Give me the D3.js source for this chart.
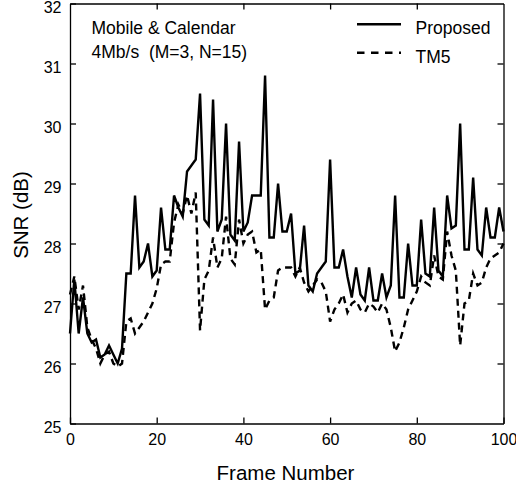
<!DOCTYPE html>
<html>
<head>
<meta charset="utf-8">
<script src="https://cdn.jsdelivr.net/npm/d3@7/dist/d3.min.js"></script>
<style>
  html, body { margin: 0; padding: 0; background: #fff; }
  svg { display: block; }
  text { font-family: "Liberation Sans", Arial, Helvetica, sans-serif; fill: #000; }
</style>
</head>
<body>
<svg id="chart" width="516" height="488"></svg>
<script>
// ---- data ----
const proposed = [
  26.5, 27.4, 26.5, 27.1, 26.5, 26.35, 26.4, 26.1, 26.15, 26.3,
  26.15, 26.0, 26.25, 27.5, 27.5, 28.8, 27.6, 27.7, 28.0, 27.45,
  27.55, 28.6, 27.9, 27.9, 28.8, 28.6, 28.45, 29.2, 29.3, 29.4,
  30.5, 28.4, 28.3, 30.4, 28.2, 28.4, 30.0, 28.15, 28.05, 29.7,
  28.2, 28.35, 28.8, 28.8, 28.8, 30.8, 28.1, 28.1, 29.0, 28.2,
  28.2, 28.5, 27.5, 27.55, 28.3, 27.3, 27.2, 27.5, 27.6, 27.7,
  29.4, 27.6, 27.6, 27.9, 27.45, 27.1, 27.6, 27.15, 27.05, 27.6,
  27.05, 27.05, 27.5, 27.1, 27.3, 28.8, 27.1, 27.1, 28.0, 27.3,
  27.3, 28.4, 27.5, 27.45, 28.6, 27.55, 27.45, 28.8, 28.25, 28.3,
  30.0, 27.9, 27.9, 29.1, 27.9, 27.8, 28.6, 28.1, 28.1, 28.6, 28.2
];
const tm5 = [
  27.15, 27.45, 26.9, 27.3, 26.6, 26.4, 26.25, 26.0, 26.15, 26.2,
  26.0, 25.95, 26.0, 26.7, 26.75, 26.5, 26.6, 26.7, 26.85, 27.0,
  27.25, 27.65, 27.7, 27.7, 28.35, 28.65, 28.5, 28.8, 28.5, 28.85,
  26.55, 27.4, 27.55, 28.1, 27.6, 27.75, 28.45, 27.75, 27.65, 28.4,
  28.0, 28.15, 28.2, 27.85, 27.9, 26.9, 27.05, 27.1, 27.55, 27.6,
  27.6, 27.6, 27.45, 27.6, 27.35, 27.2, 27.3, 27.4, 27.35, 27.2,
  26.7, 26.9, 27.0, 27.15, 26.85, 27.0, 27.05, 26.9, 26.85, 27.0,
  26.95, 26.85, 27.0, 26.9, 26.6, 26.2, 26.35, 26.6, 26.9, 27.05,
  27.2, 27.45, 27.35, 27.3, 27.8, 27.45, 27.4, 28.2, 27.8, 27.55,
  26.3, 27.0, 27.05, 27.5, 27.3, 27.35, 27.6, 27.75, 27.8, 27.85, 28.0
];
const xTicks = [0, 20, 40, 60, 80, 100];
const yTicks = [25, 26, 27, 28, 29, 30, 31, 32];
const seriesNames = ["Proposed", "TM5"];
const annotation = ["Mobile & Calendar", "4Mb/s  (M=3, N=15)"];
const xLabel = "Frame Number";
const yLabel = "SNR (dB)";

// ---- layout ----
const svg = d3.select("#chart");
const L = 70, R = 503.5, T = 3.5, B = 423.5;
const x = d3.scaleLinear().domain([0, 100]).range([L, R]);
const y = d3.scaleLinear().domain([25, 32]).range([B, T]);
const fmt = d3.format("d");

const axStroke = 1.3;
function styleAxis(g) {
  g.selectAll("path.domain").attr("stroke", "#000").attr("stroke-width", axStroke);
  g.selectAll(".tick line").attr("stroke", "#000").attr("stroke-width", axStroke);
}

// bottom axis
const gB = svg.append("g").attr("transform", `translate(0,${B})`)
  .call(d3.axisBottom(x).tickValues(xTicks).tickFormat(fmt).tickSizeInner(-6).tickSizeOuter(0).tickPadding(10));
gB.selectAll("text").attr("font-size", 16).style("font-family", "Liberation Sans, Arial, sans-serif");
styleAxis(gB);
// left axis
const gL = svg.append("g").attr("transform", `translate(${L},0)`)
  .call(d3.axisLeft(y).tickValues(yTicks).tickFormat(fmt).tickSizeInner(-6).tickSizeOuter(0).tickPadding(8.5));
gL.selectAll("text").attr("font-size", 16).attr("dy", "0.55em").style("font-family", "Liberation Sans, Arial, sans-serif");
styleAxis(gL);
// top axis
const gT = svg.append("g").attr("transform", `translate(0,${T})`)
  .call(d3.axisTop(x).tickValues(xTicks.slice(1, -1)).tickSizeInner(-6).tickSizeOuter(0).tickFormat(""));
styleAxis(gT);
// right axis
const gR = svg.append("g").attr("transform", `translate(${R},0)`)
  .call(d3.axisRight(y).tickValues(yTicks.slice(1, -1)).tickSizeInner(-6).tickSizeOuter(0).tickFormat(""));
styleAxis(gR);
svg.selectAll(".tick text").attr("fill", "#000");

// lines
const line = d3.line().x((d, i) => x(i)).y(d => y(d));
svg.append("path").datum(tm5).attr("d", line)
  .attr("fill", "none").attr("stroke", "#000").attr("stroke-width", 2.4)
  .attr("stroke-dasharray", "7,5");
svg.append("path").datum(proposed).attr("d", line)
  .attr("fill", "none").attr("stroke", "#000").attr("stroke-width", 2.4);

// annotation
svg.append("text").attr("x", 91.5).attr("y", 34.3).attr("font-size", 17.5).text(annotation[0]);
svg.append("text").attr("x", 91.5).attr("y", 58).attr("font-size", 17.5)
  .style("white-space", "pre").attr("xml:space", "preserve").text(annotation[1]);

// legend
svg.append("line").attr("x1", 357).attr("x2", 401).attr("y1", 24.3).attr("y2", 24.3)
  .attr("stroke", "#000").attr("stroke-width", 2.4);
svg.append("text").attr("x", 415.5).attr("y", 34.3).attr("font-size", 17.5).text(seriesNames[0]);
svg.append("line").attr("x1", 357).attr("x2", 401).attr("y1", 52.7).attr("y2", 52.7)
  .attr("stroke", "#000").attr("stroke-width", 2.4).attr("stroke-dasharray", "7.5,6.5");
svg.append("text").attr("x", 415.5).attr("y", 63.3).attr("font-size", 17.5).text(seriesNames[1]);

// axis titles
svg.append("text").attr("x", 285.5).attr("y", 480).attr("text-anchor", "middle")
  .attr("font-size", 20.5).text(xLabel);
svg.append("text").attr("transform", "translate(28,215) rotate(-90)")
  .attr("text-anchor", "middle").attr("font-size", 20.5).text(yLabel);
</script>
</body>
</html>
